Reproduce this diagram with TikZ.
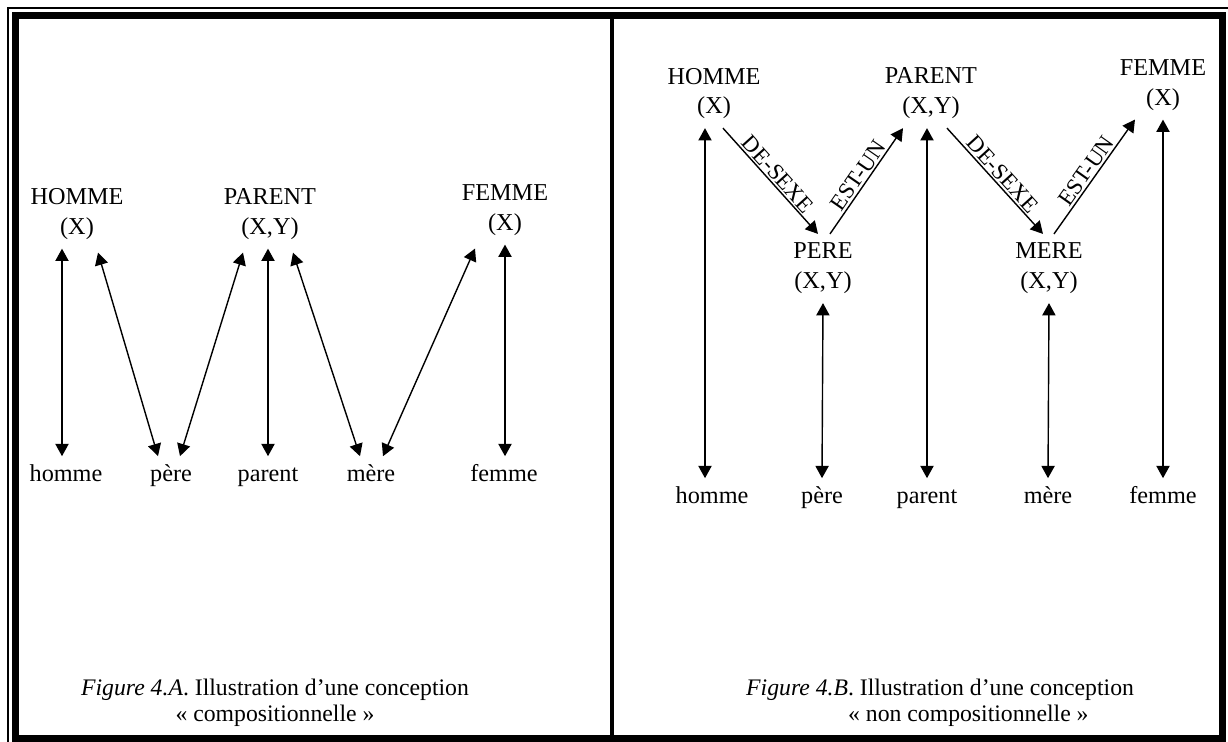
\documentclass[tikz,border=0pt]{standalone}
\usepackage{fontspec}
\setmainfont{Liberation Serif}
\usetikzlibrary{calc}
\usetikzlibrary{arrows.meta}

\newcommand{\tip}{Triangle[length=7pt,width=7.5pt]}
\tikzset{
  concept/.style={align=center,inner xsep=2pt,inner ysep=5pt,
    font=\fontsize{13.8}{17}\selectfont},
  word/.style={text height=10pt,text depth=3pt,inner ysep=4pt,
    font=\fontsize{13.8}{17}\selectfont},
  caption/.style={font=\fontsize{13.5}{15}\selectfont},
  link/.style={-{\tip},line width=0.8pt},
  twoway/.style={{\tip}-{\tip},line width=0.8pt},
  rel/.style={midway,sloped,above,inner sep=1pt,
    font=\fontsize{13}{14}\selectfont},
}

\begin{document}
\begin{tikzpicture}[x=0.02cm,y=-0.02cm]
    \useasboundingbox (0,0) rectangle (1228,742);

    % Frame
    \draw[line width=1.1pt] (8,742) -- (8,8) -- (1228,8);
    \draw[line width=4pt] (15.5,15.5) rectangle (1222.5,738.5);
    \draw[line width=2.3pt] (612,19) -- (612,736);

    % Compositional view
    \begin{scope}
      \node[concept] (HA) at (77,214) {HOMME\\(X)};
      \node[concept] (PA) at (270,214) {PARENT\\(X,Y)};
      \node[concept] (FA) at (505,210) {FEMME\\(X)};

      \node[word] (hA) at (66,475) {homme};
      \node[word] (pA) at (171,475) {père};
      \node[word] (paA) at (268,475) {parent};
      \node[word] (mA) at (371,475) {mère};
      \node[word] (fA) at (504,475) {femme};

      \draw[twoway] ($(HA.south)+(-15,0)$) -- ($(hA.north)+(-4,0)$);
      \draw[twoway] ($(HA.south)+(21,4)$) -- ($(pA.north)+(-13,0)$);
      \draw[twoway] ($(pA.north)+(9,0)$) -- ($(PA.south)+(-27,4)$);
      \draw[twoway] ($(PA.south)+(-2,0)$) -- (paA.north);
      \draw[twoway] ($(PA.south)+(23,4)$) -- ($(mA.north)+(-11,0)$);
      \draw[twoway] ($(mA.north)+(12,0)$) -- ($(FA.south)+(-30,4)$);
      \draw[twoway] (FA.south) -- ($(fA.north)+(1,0)$);

      \node[caption,align=center] (capA) at (275,703)
        {\textit{Figure 4.A}. Illustration d’une conception\\« compositionnelle »};
    \end{scope}

    % Non compositional view
    \begin{scope}
      \node[concept] (HR) at (714,93.5) {HOMME\\(X)};
      \node[concept] (PR) at (931,93.5) {PARENT\\(X,Y)};
      \node[concept] (FR) at (1163,85) {FEMME\\(X)};
      \node[concept] (PeR) at (823,268.5) {PERE\\(X,Y)};
      \node[concept] (MeR) at (1049,268.5) {MERE\\(X,Y)};

      \begin{scope}[every node/.append style={inner ysep=12pt}]
        \node[word] (hR) at (712,497) {homme};
        \node[word] (pR) at (822,497) {père};
        \node[word] (paR) at (927,497) {parent};
        \node[word] (mR) at (1048,497) {mère};
        \node[word] (fR) at (1163,497) {femme};
      \end{scope}

      % Links between concepts
      \draw[link] ($(HR.south)+(9,0)$) -- node[rel] {DE-SEXE} ($(PeR.north)+(-5,0)$);
      \draw[link] ($(PeR.north)+(7,0)$) -- node[rel] {EST-UN} ($(PR.south)+(-28,0)$);
      \draw[link] ($(PR.south)+(16,0)$) -- node[rel] {DE-SEXE} ($(MeR.north)+(-6,0)$);
      \draw[link] ($(MeR.north)+(5,0)$) -- node[rel] {EST-UN} ($(FR.south)+(-28,0)$);

      % Concepts to words
      \draw[twoway] ($(HR.south)+(-9,0)$) -- ($(hR.north)+(-7,0)$);
      \draw[twoway] (PeR.south) -- (pR.north);
      \draw[twoway] ($(PR.south)+(-4,0)$) -- (paR.north);
      \draw[twoway] (MeR.south) -- (mR.north);
      \draw[twoway] (FR.south) -- (fR.north);

      \node[caption,align=left,anchor=west] (capB) at (740,703)
        {\textit{Figure 4.B}. Illustration d’une conception\\\hspace*{58pt}« non compositionnelle »};
    \end{scope}
\end{tikzpicture}
\end{document}
